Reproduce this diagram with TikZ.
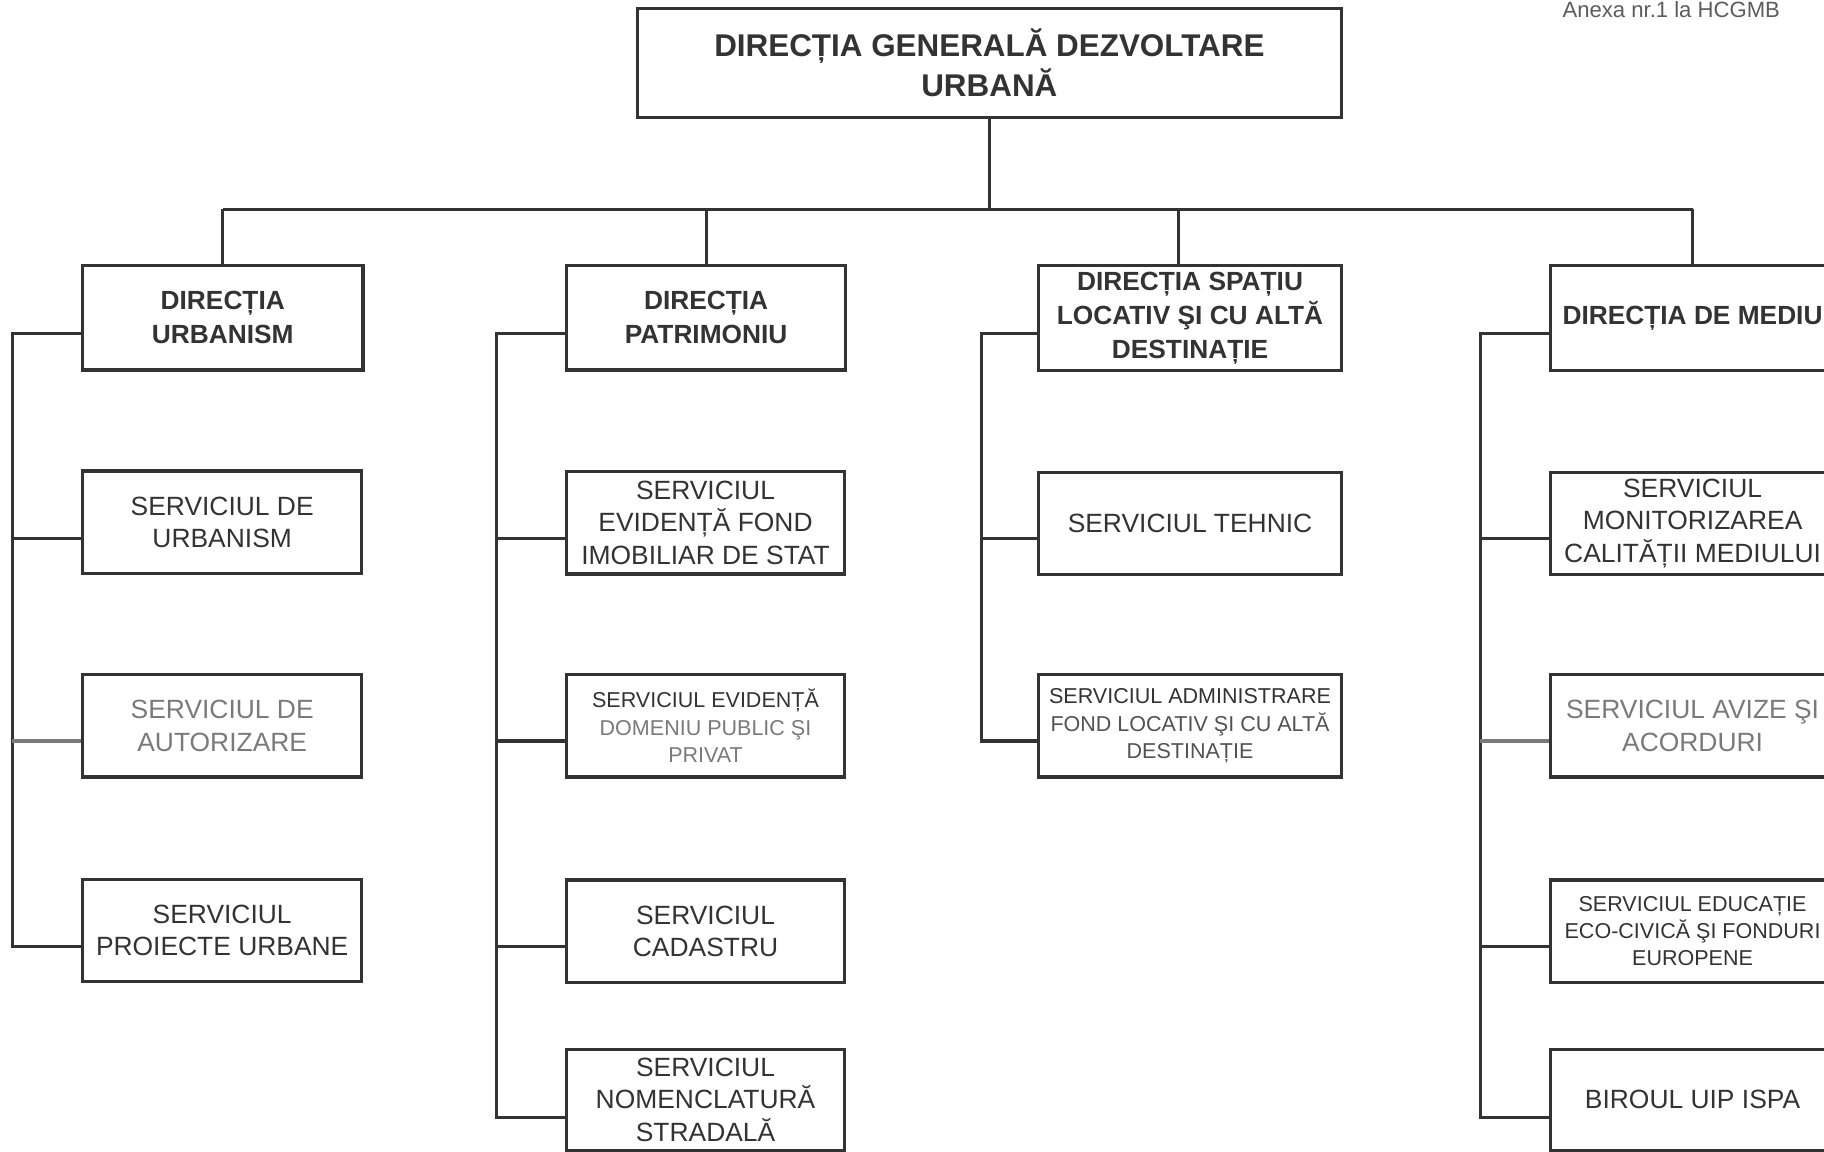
\documentclass[tikz,border=0pt]{standalone}
\usepackage{fontspec}
\setmainfont{Liberation Sans}
\definecolor{ink}{HTML}{333333}
\definecolor{pale}{HTML}{7A7A7A}
\begin{document}
\begin{tikzpicture}[x=1pt, y=-1pt,
  box/.style={draw=ink, line width=2.8pt, text=ink, align=center, inner sep=0pt, minimum height=88pt},
  topbox/.style={box, font=\fontsize{27}{35}\selectfont\bfseries, minimum width=605pt, minimum height=94pt},
  headbox/.style={box, font=\fontsize{22.6}{29.5}\selectfont\bfseries, minimum height=90pt},
  unitbox/.style={box, font=\fontsize{22.7}{28}\selectfont},
  smallbox/.style={box, font=\fontsize{18.5}{23.5}\selectfont},
  link/.style={draw=ink, line width=2.6pt}]
\useasboundingbox (0,0) rectangle (1568,990);
\node[anchor=north west, inner sep=0pt, text=ink!80, font=\fontsize{19}{23}\selectfont] (anexa) at (1343,1.5) {Anexa nr.1 la HCGMB};
\node[topbox] (d0) at (850.5,54) {DIRECȚIA GENERALĂ DEZVOLTARE\\URBANĂ};
\node[headbox, minimum width=241pt] (d1) at (191.5,273) {DIRECȚIA\\URBANISM};
\node[headbox, minimum width=240pt] (d2) at (607,273) {DIRECȚIA\\PATRIMONIU};
\node[headbox, minimum width=260pt] (d3) at (1023,273.5) {DIRECȚIA SPAȚIU\\LOCATIV ŞI CU ALTĂ\\DESTINAȚIE};
\node[headbox, minimum width=244pt] (d4) at (1455,273.5) {DIRECȚIA DE MEDIU};
\node[unitbox, minimum width=240pt] (s11) at (191,449) {SERVICIUL DE\\URBANISM};
\node[unitbox, minimum width=240pt, text=pale] (s12) at (191,624) {SERVICIUL DE\\AUTORIZARE};
\node[unitbox, minimum width=240pt] (s13) at (191,800) {SERVICIUL\\PROIECTE URBANE};
\node[unitbox, minimum width=239pt] (s21) at (606.5,449.5) {SERVICIUL\\EVIDENȚĂ FOND\\IMOBILIAR DE STAT};
\node[smallbox, minimum width=239pt] (s22) at (606.5,624) {SERVICIUL EVIDENȚĂ\\\textcolor{pale}{DOMENIU PUBLIC ŞI}\\\textcolor{pale}{PRIVAT}};
\node[unitbox, minimum width=239pt] (s23) at (606.5,800.5) {SERVICIUL\\CADASTRU};
\node[unitbox, minimum width=239pt, minimum height=87pt] (s24) at (606.5,945.5) {SERVICIUL\\NOMENCLATURĂ\\STRADALĂ};
\node[unitbox, minimum width=260pt] (s31) at (1023,450) {SERVICIUL TEHNIC};
\node[smallbox, minimum width=260pt] (s32) at (1023,624) {SERVICIUL ADMINISTRARE\\\textcolor{ink!85}{FOND LOCATIV ŞI CU ALTĂ}\\\textcolor{ink!85}{DESTINAȚIE}};
\node[unitbox, minimum width=244pt] (s41) at (1455,450) {SERVICIUL\\MONITORIZAREA\\CALITĂȚII MEDIULUI};
\node[unitbox, minimum width=244pt, text=pale] (s42) at (1455,624) {SERVICIUL AVIZE ŞI\\ACORDURI};
\node[smallbox, minimum width=244pt] (s43) at (1455,800.5) {SERVICIUL EDUCAȚIE\\ECO-CIVICĂ ŞI FONDURI\\EUROPENE};
\node[unitbox, minimum width=244pt, minimum height=87pt] (s44) at (1455,945.5) {BIROUL UIP ISPA};
% main tree
\coordinate (busL) at (191.5,180);
\coordinate (busR) at (1455,180);
\draw[link] (d0.south) -- (d0.south |- busL);
\draw[link] (busL) -- (busR);
\draw[link] (busL) -- (d1.north);
\draw[link] (d2.north |- busL) -- (d2.north);
\draw[link] ([xshift=-10pt]d3.north |- busL) -- ([xshift=-10pt]d3.north);
\draw[link] (busR) -- (d4.north);
% urbanism
\draw[link] ([yshift=-13.5pt]d1.west) -- ++(-59,0) |- ([yshift=-14pt]s13.west);
\draw[link] ([yshift=-14pt]s11.west) -- ++(-59,0);
\draw[link, draw=pale] ([yshift=-13pt]s12.west) -- ++(-59,0);
% patrimoniu
\draw[link] ([yshift=-14pt]d2.west) -- ++(-59,0) |- ([yshift=-15.5pt]s24.west);
\draw[link] ([yshift=-13.5pt]s21.west) -- ++(-59,0);
\draw[link] ([yshift=-13pt]s22.west) -- ++(-59,0);
\draw[link] ([yshift=-13.5pt]s23.west) -- ++(-59,0);
% spatiu locativ
\draw[link] ([yshift=-13.5pt]d3.west) -- ++(-48,0) |- ([yshift=-13pt]s32.west);
\draw[link] ([yshift=-13pt]s31.west) -- ++(-48,0);
% mediu
\draw[link] ([yshift=-13.5pt]d4.west) -- ++(-59,0) |- ([yshift=-15.5pt]s44.west);
\draw[link] ([yshift=-13pt]s41.west) -- ++(-59,0);
\draw[link, draw=pale] ([yshift=-13pt]s42.west) -- ++(-59,0);
\draw[link] ([yshift=-13.5pt]s43.west) -- ++(-59,0);
\end{tikzpicture}
\end{document}
